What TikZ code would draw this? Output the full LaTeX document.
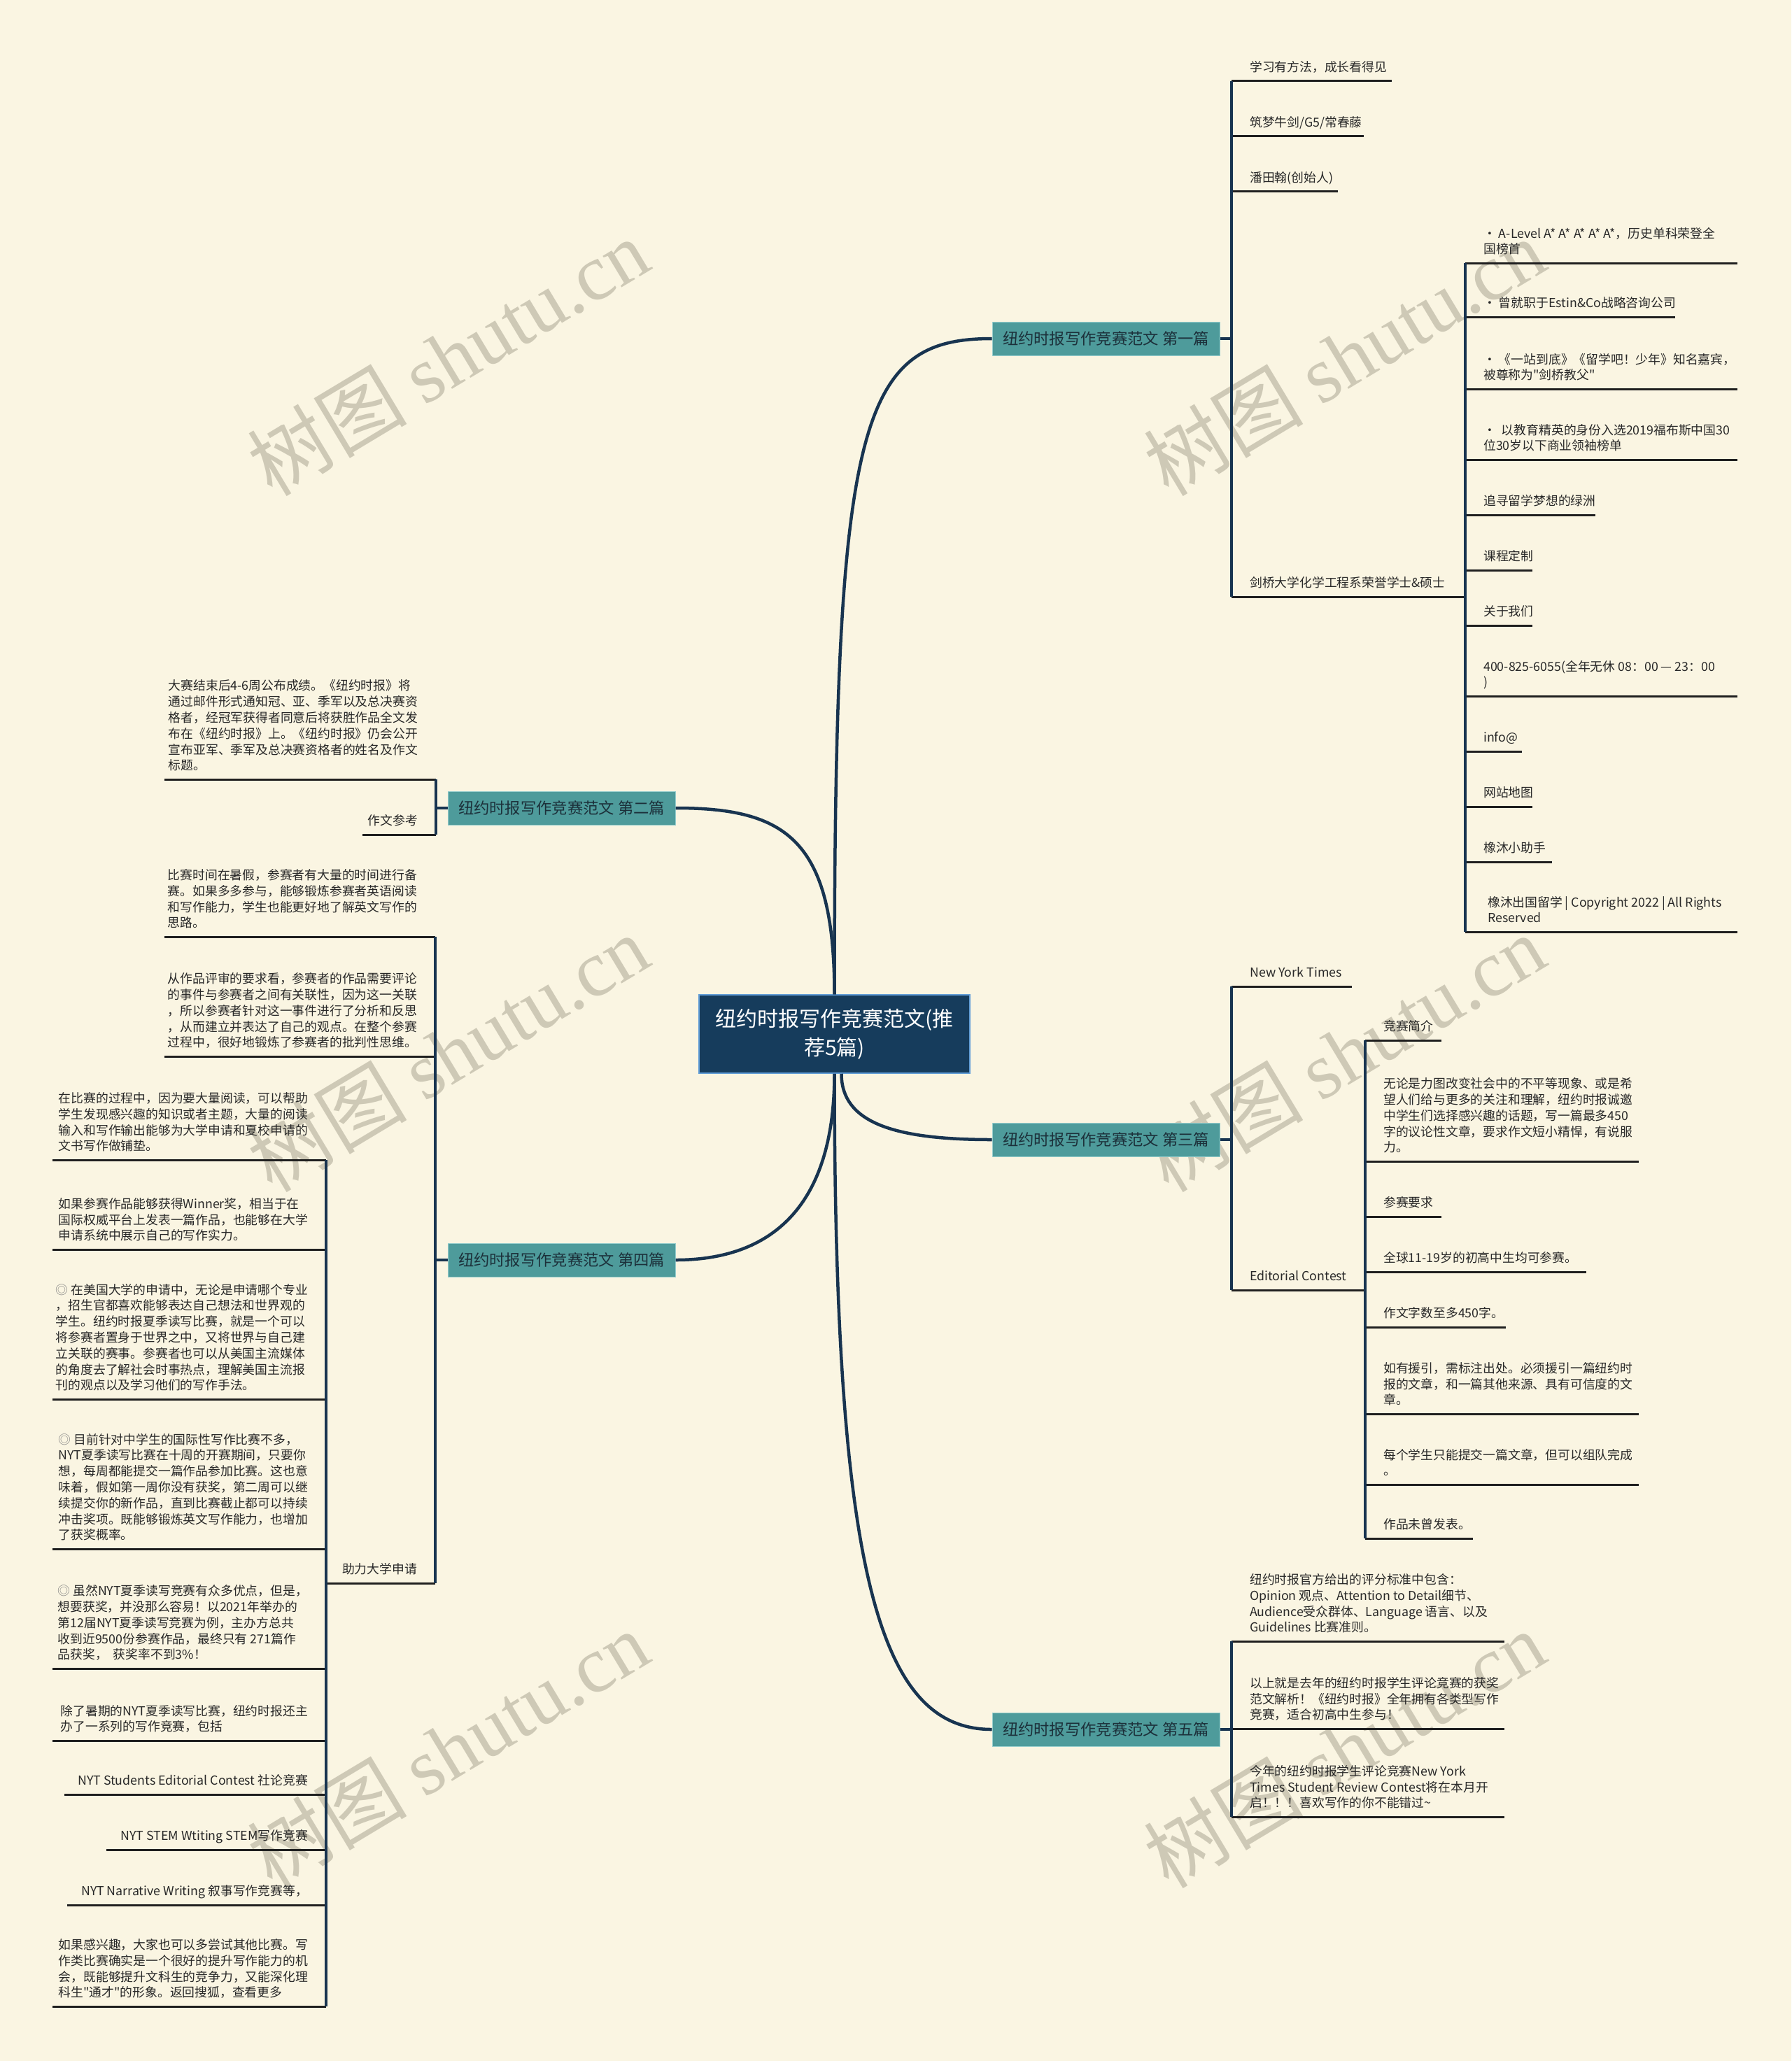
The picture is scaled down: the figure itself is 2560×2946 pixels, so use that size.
\documentclass[tikz,border=0pt]{standalone}
\usepackage{fontspec}
\setmainfont{Noto Sans CJK SC}
\newfontfamily\wmlat{Liberation Serif}
\newfontfamily\qfont{Noto Sans CJK SC}[Ligatures=TeXOff]
\usetikzlibrary{calc}

\definecolor{bgc}{RGB}{250,245,226}
\definecolor{navyc}{RGB}{24,52,80}
\definecolor{rootfillc}{RGB}{22,60,92}
\definecolor{rootborderc}{RGB}{96,156,214}
\definecolor{brtealc}{RGB}{78,155,155}
\definecolor{brborderc}{RGB}{150,205,205}
\definecolor{brtextc}{RGB}{28,48,58}
\definecolor{wmc}{RGB}{206,201,182}
\definecolor{leafc}{RGB}{40,40,40}

\newcommand\sq{{\qfont\char34}}

\tikzset{
 conn/.style={draw=navyc, line width=4.5pt},
 spine/.style={draw=navyc, line width=3.5pt},
 uline/.style={draw=black!88, line width=3pt},
 leaftext/.style={inner sep=0pt, align=left, text=leafc, font=\fontsize{17.8}{22.8}\selectfont, execute at end node=\strut},
 branchbox/.style={fill=brtealc, draw=brborderc, line width=1pt, minimum width=325pt, minimum height=48pt, inner sep=0pt, text=brtextc, font=\fontsize{22.3}{26}\selectfont},
 rootbox/.style={fill=rootfillc, draw=rootborderc, line width=1.5pt, minimum width=387pt, minimum height=112pt, text width=370pt, align=center, text=white, font=\fontsize{30}{41}\selectfont, inner sep=0pt},
 wmark/.style={text=wmc, rotate=31, inner sep=0pt, font=\fontsize{114}{114}\selectfont},
}

% right-hand leaf: name, spine x, underline y, underline end x, text
\newcommand\rleaf[5]{%
  \coordinate (#1-s) at (#2,#3);
  \coordinate (#1-e) at (#4,#3);
  \draw[uline] (#1-s) -- (#1-e);
  \node[leaftext, anchor=south west] (#1) at ([xshift=26pt,yshift=6pt]#1-s) {#5};
}
% left-hand leaf: name, spine x, underline y, underline end x (left), text
\newcommand\lleaf[5]{%
  \coordinate (#1-s) at (#2,#3);
  \coordinate (#1-e) at (#4,#3);
  \draw[uline] (#1-s) -- (#1-e);
  \node[leaftext, anchor=south east] (#1) at ([xshift=-26pt,yshift=6pt]#1-s) {#5};
}

\begin{document}
\begin{tikzpicture}[x=1pt,y=-1pt]
\useasboundingbox (0,0) rectangle (2560,2946);
\fill[bgc] (0,0) rectangle (2560,2946);

% watermarks
\foreach \wx/\wy [count=\i] in {640/510, 1921/510, 640/1505, 1921/1505, 640/2500, 1921/2500}
  \node[wmark] (wm\i) at (\wx,\wy) {树图 {\wmlat shutu.cn}};

% root and branches
\node[rootbox] (root) at (1192.5,1478) {纽约时报写作竞赛范文(推\\荐5篇)};
\node[branchbox] (b1) at (1580.5,484) {纽约时报写作竞赛范文 第一篇};
\node[branchbox] (b2) at (802.5,1155) {纽约时报写作竞赛范文 第二篇};
\node[branchbox] (b3) at (1580.5,1629) {纽约时报写作竞赛范文 第三篇};
\node[branchbox] (b4) at (802.5,1801) {纽约时报写作竞赛范文 第四篇};
\node[branchbox] (b5) at (1580.5,2472) {纽约时报写作竞赛范文 第五篇};

\draw[conn] (root.north) .. controls ($(root.north)+(0,-820)$) and ($(b1.west)+(-190,0)$) .. (b1.west);
\draw[conn] (root.north) .. controls ($(root.north)+(0,-222)$) and ($(b2.east)+(157,0)$) .. (b2.east);
\draw[conn] ($(root.south)+(10,0)$) .. controls ($(root.south)+(10,70)$) and ($(b3.west)+(-140,0)$) .. (b3.west);
\draw[conn] (root.south) .. controls ($(root.south)+(0,190)$) and ($(b4.east)+(137,0)$) .. (b4.east);
\draw[conn] (root.south) .. controls ($(root.south)+(0,720)$) and ($(b5.west)+(-160,0)$) .. (b5.west);

% ---------- branch 1 ----------
\rleaf{c1a}{1760}{116}{1989}{学习有方法，成长看得见}
\rleaf{c1b}{1760}{195}{1949}{筑梦牛剑/G5/常春藤}
\rleaf{c1c}{1760}{274}{1912}{潘田翰(创始人)}
\rleaf{c1d}{1760}{853}{2094}{剑桥大学化学工程系荣誉学士\&硕士}
\draw[spine] (c1a-s) -- (c1d-s);
\draw[conn] (b1.east) -- (b1.east -| c1a-s);

\rleaf{d1}{2094}{376}{2483}{· A-Level A* A* A* A* A*，历史单科荣登全\\国榜首}
\rleaf{d2}{2094}{453}{2394}{· 曾就职于Estin\&Co战略咨询公司}
\rleaf{d3}{2094}{556}{2483}{· 《一站到底》《留学吧！少年》知名嘉宾，\\被尊称为\sq 剑桥教父\sq}
\rleaf{d4}{2094}{657}{2483}{·\ \ 以教育精英的身份入选2019福布斯中国30\\位30岁以下商业领袖榜单}
\rleaf{d5}{2094}{736}{2280}{追寻留学梦想的绿洲}
\rleaf{d6}{2094}{815}{2190}{课程定制}
\rleaf{d7}{2094}{894}{2190}{关于我们}
\rleaf{d8}{2094}{995}{2483}{400-825-6055(全年无休 08：00 — 23：00\\)}
\rleaf{d9}{2094}{1074}{2175}{info@}
\rleaf{d10}{2094}{1153}{2190}{网站地图}
\rleaf{d11}{2094}{1232}{2218}{橡沐小助手}
\rleaf{d12}{2094}{1332}{2483}{\hspace{6pt}橡沐出国留学 | Copyright 2022 | All Rights\\\hspace{6pt}Reserved}
\draw[spine] (d1-s) -- (d12-s);

% ---------- branch 2 ----------
\lleaf{g1}{623}{1114}{235}{大赛结束后4-6周公布成绩。《纽约时报》将\\通过邮件形式通知冠、亚、季军以及总决赛资\\格者，经冠军获得者同意后将获胜作品全文发\\布在《纽约时报》上。《纽约时报》仍会公开\\宣布亚军、季军及总决赛资格者的姓名及作文\\标题。}
\lleaf{g2}{623}{1193}{518}{作文参考}
\draw[spine] (g1-s) -- (g2-s);
\draw[conn] (b2.west) -- (b2.west -| g1-s);

% ---------- branch 3 ----------
\rleaf{c3a}{1760}{1410}{1932}{New York Times}
\rleaf{c3b}{1760}{1844}{1951}{Editorial Contest}
\draw[spine] (c3a-s) -- (c3b-s);
\draw[conn] (b3.east) -- (b3.east -| c3a-s);

\rleaf{e1}{1951}{1487}{2060}{竞赛简介}
\rleaf{e2}{1951}{1660}{2342}{无论是力图改变社会中的不平等现象、或是希\\望人们给与更多的关注和理解，纽约时报诚邀\\中学生们选择感兴趣的话题，写一篇最多450\\字的议论性文章，要求作文短小精悍，有说服\\力。}
\rleaf{e3}{1951}{1739}{2060}{参赛要求}
\rleaf{e4}{1951}{1818}{2267}{全球11-19岁的初高中生均可参赛。}
\rleaf{e5}{1951}{1897}{2152}{作文字数至多450字。}
\rleaf{e6}{1951}{2021}{2342}{如有援引，需标注出处。必须援引一篇纽约时\\报的文章，和一篇其他来源、具有可信度的文\\章。}
\rleaf{e7}{1951}{2122}{2342}{每个学生只能提交一篇文章，但可以组队完成\\。}
\rleaf{e8}{1951}{2199}{2105}{作品未曾发表。}
\draw[spine] (e1-s) -- (e8-s);

% ---------- branch 4 ----------
\lleaf{h1}{622}{1339}{235}{比赛时间在暑假，参赛者有大量的时间进行备\\赛。如果多多参与，能够锻炼参赛者英语阅读\\和写作能力，学生也能更好地了解英文写作的\\思路。}
\lleaf{h2}{622}{1510}{235}{从作品评审的要求看，参赛者的作品需要评论\\的事件与参赛者之间有关联性，因为这一关联\\，所以参赛者针对这一事件进行了分析和反思\\，从而建立并表达了自己的观点。在整个参赛\\过程中，很好地锻炼了参赛者的批判性思维。}
\lleaf{h3}{622}{2263}{466}{助力大学申请}
\draw[spine] (h1-s) -- (h3-s);
\draw[conn] (b4.west) -- (b4.west -| h1-s);

\lleaf{k1}{466}{1658}{75}{在比赛的过程中，因为要大量阅读，可以帮助\\学生发现感兴趣的知识或者主题，大量的阅读\\输入和写作输出能够为大学申请和夏校申请的\\文书写作做铺垫。}
\lleaf{k2}{466}{1786}{75}{如果参赛作品能够获得Winner奖，相当于在\\国际权威平台上发表一篇作品，也能够在大学\\申请系统中展示自己的写作实力。}
\lleaf{k3}{466}{2000}{75}{{\color{gray}◎} 在美国大学的申请中，无论是申请哪个专业\\，招生官都喜欢能够表达自己想法和世界观的\\学生。纽约时报夏季读写比赛，就是一个可以\\将参赛者置身于世界之中，又将世界与自己建\\立关联的赛事。参赛者也可以从美国主流媒体\\的角度去了解社会时事热点，理解美国主流报\\刊的观点以及学习他们的写作手法。}
\lleaf{k4}{466}{2214}{75}{{\color{gray}◎} 目前针对中学生的国际性写作比赛不多，\\NYT夏季读写比赛在十周的开赛期间，只要你\\想，每周都能提交一篇作品参加比赛。这也意\\味着，假如第一周你没有获奖，第二周可以继\\续提交你的新作品，直到比赛截止都可以持续\\冲击奖项。既能够锻炼英文写作能力，也增加\\了获奖概率。}
\lleaf{k5}{466}{2385}{75}{{\color{gray}◎} 虽然NYT夏季读写竞赛有众多优点，但是，\\想要获奖，并没那么容易！以2021年举办的\\第12届NYT夏季读写竞赛为例，主办方总共\\收到近9500份参赛作品，最终只有 271篇作\\品获奖，\ \ 获奖率不到3\%！}
\lleaf{k6}{466}{2488}{75}{除了暑期的NYT夏季读写比赛，纽约时报还主\\办了一系列的写作竞赛，包括}
\lleaf{k7}{466}{2565}{92}{NYT Students Editorial Contest 社论竞赛}
\lleaf{k8}{466}{2644}{152}{NYT STEM Wtiting STEM写作竞赛}
\lleaf{k9}{466}{2723}{96}{NYT Narrative Writing 叙事写作竞赛等，}
\lleaf{k10}{466}{2868}{75}{如果感兴趣，大家也可以多尝试其他比赛。写\\作类比赛确实是一个很好的提升写作能力的机\\会，既能够提升文科生的竞争力，又能深化理\\科生\sq 通才\sq 的形象。返回搜狐，查看更多}
\draw[spine] (k1-s) -- (k10-s);

% ---------- branch 5 ----------
\rleaf{f1}{1760}{2346}{2150}{纽约时报官方给出的评分标准中包含：\\Opinion 观点、Attention to Detail细节、\\Audience受众群体、Language 语言、以及\\Guidelines 比赛准则。}
\rleaf{f2}{1760}{2471}{2150}{以上就是去年的纽约时报学生评论竞赛的获奖\\范文解析！《纽约时报》全年拥有各类型写作\\竞赛，适合初高中生参与！}
\rleaf{f3}{1760}{2597}{2150}{今年的纽约时报学生评论竞赛New York\\Times Student Review Contest将在本月开\\启！！！喜欢写作的你不能错过\textasciitilde}
\draw[spine] (f1-s) -- (f3-s);
\draw[conn] (b5.east) -- (b5.east -| f1-s);
\end{tikzpicture}
\end{document}
